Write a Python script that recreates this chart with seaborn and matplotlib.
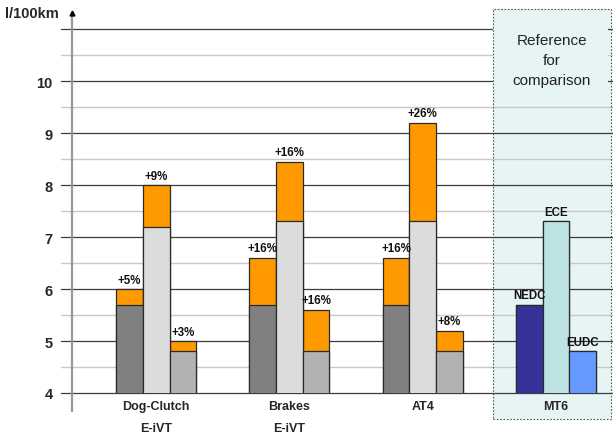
import matplotlib
matplotlib.use("Agg")
import matplotlib.pyplot as plt
import seaborn as sns
import pandas as pd
from matplotlib.patches import Rectangle

# ---- data ----
groups = ["Dog-Clutch", "Brakes", "AT4", "MT6"]
group_sub = ["E-iVT", "E-iVT", "", ""]
cycles = ["NEDC", "ECE", "EUDC"]
base_nedc = [5.7, 5.7, 5.7, 5.7]
base_ece = [7.2, 7.3, 7.3, 7.3]
base_eudc = [4.8, 4.8, 4.8, 4.8]
total_nedc = [6.0, 6.6, 6.6, 5.7]
total_ece = [8.0, 8.45, 9.2, 7.3]
total_eudc = [5.0, 5.6, 5.2, 4.8]
pct_nedc = ["+5%", "+16%", "+16%", ""]
pct_ece = ["+9%", "+16%", "+26%", ""]
pct_eudc = ["+3%", "+16%", "+8%", ""]
ref_group = "MT6"
yticks = [4, 5, 6, 7, 8, 9, 10]
ylabel = "l/100km"
ref_text = "Reference\nfor\ncomparison"

# ---- styles ----
sns.set_style("white")
plt.rcParams["font.family"] = ["Liberation Sans", "DejaVu Sans"]

ORANGE = "#FF9900"
base_colors = ["#808080", "#DCDCDC", "#B2B2B2"]
ref_colors = ["#333399", "#BDE2E4", "#6699FF"]
EDGE = "#2a2a2a"
BOX_FILL = "#E7F4F4"

rows = []
bases = [base_nedc, base_ece, base_eudc]
totals = [total_nedc, total_ece, total_eudc]
pcts = [pct_nedc, pct_ece, pct_eudc]
for gi, g in enumerate(groups):
    for ci, c in enumerate(cycles):
        rows.append({"group": g, "cycle": c, "base": bases[ci][gi],
                     "total": totals[ci][gi], "pct": pcts[ci][gi]})
df = pd.DataFrame(rows)

fig = plt.figure(figsize=(6.13, 4.35), dpi=100)
ax = fig.add_axes([61 / 613, 41 / 435, 552 / 613, 384 / 435])

common = dict(x="group", hue="cycle", order=groups, hue_order=cycles,
              width=0.6, gap=0, dodge=True, errorbar=None, legend=False,
              saturation=1, edgecolor=EDGE, linewidth=0.9, ax=ax, zorder=2)
sns.barplot(data=df, y="total", palette=[ORANGE] * 3, **common)
sns.barplot(data=df, y="base", palette=base_colors, **common)

ax.set_ylim(4, 11.385)
ax.set_xlim(-0.714, 3.427)

# recolor reference group
ref_idx = groups.index(ref_group)
n = len(cycles)
for ci in range(n):
    ax.containers[n + ci][ref_idx].set_facecolor(ref_colors[ci])

# labels above bars
for ci in range(n):
    tot_cont = ax.containers[ci]
    for gi, g in enumerate(groups):
        p = tot_cont[gi]
        xc = p.get_x() + p.get_width() / 2
        top = p.get_y() + p.get_height()
        txt = cycles[ci] if g == ref_group else pcts[ci][gi]
        ax.annotate(txt, xy=(xc, top), xytext=(0, 2.5), textcoords="offset points",
                    ha="center", va="bottom", fontsize=8.3, fontweight="bold",
                    color="#111111", zorder=4)

# gridlines
for v in range(4, 12):
    ax.axhline(v, color="#3c3c3c", lw=0.9, zorder=0.5, clip_on=False)
for v in range(4, 11):
    ax.axhline(v + 0.5, color="#c8c8c8", lw=1.0, zorder=0.5)

# reference box
x0, x1 = 2.527, 3.412
ax.add_patch(Rectangle((x0, 3.5), x1 - x0, 11.385 - 3.5, facecolor=BOX_FILL,
                       edgecolor="none", zorder=0.2, clip_on=False))
ax.add_patch(Rectangle((x0, 9.81), 3.39 - x0, 11.2 - 9.81, facecolor=BOX_FILL,
                       edgecolor="none", zorder=0.8, clip_on=False))
ax.add_patch(Rectangle((x0, 3.5), x1 - x0, 11.385 - 3.5, facecolor="none",
                       edgecolor="#555555", lw=0.8, linestyle=(0, (1.5, 1.5)),
                       zorder=0.9, clip_on=False))
ax.text((x0 + x1) / 2, 10.40, ref_text, ha="center", va="center", fontsize=11,
        linespacing=1.55, color="#222222", zorder=1)

# axes styling
for s in ax.spines.values():
    s.set_visible(False)
ax.set_xlabel("")
ax.set_ylabel("")
ax.set_yticks(yticks)
ax.set_yticklabels([str(t) for t in yticks], fontsize=10.5, fontweight="bold")
ax.tick_params(axis="y", length=0, pad=6)
ax.set_xticks(range(len(groups)))
ax.set_xticklabels([g + ("\n" + s if s else "") for g, s in zip(groups, group_sub)],
                   fontsize=9, fontweight="bold", linespacing=2.1)
ax.tick_params(axis="x", length=0, pad=5)

# y axis line with arrow
ax_x = 11 / 552
ax.plot([ax_x, ax_x], [-0.0495, 0.985], transform=ax.transAxes, color="#999999",
        lw=1.6, clip_on=False, zorder=3, solid_capstyle="butt")
ax.plot([ax_x], [0.9896], marker="^", ms=3.5, color="black",
        transform=ax.transAxes, clip_on=False, zorder=4)

fig.text(5 / 613, 1 - 14 / 435, ylabel, ha="left", va="center",
         fontsize=10.5, fontweight="bold")

fig.savefig("out.png", dpi=100)
